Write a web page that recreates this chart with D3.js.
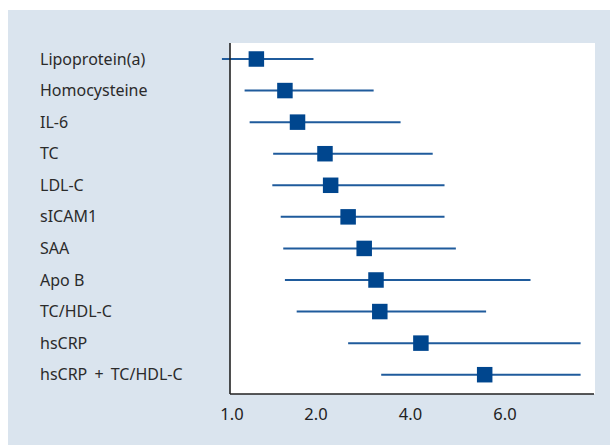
<!DOCTYPE html>
<html>
<head>
	<meta charset="utf-8">
	<title>forest plot</title>
	<script src="https://d3js.org/d3.v7.min.js"></script>
	<style>
		body { margin: 0; background: #fff; }
		svg { display: block; font-family: 'Noto Sans', sans-serif; }
	</style>
</head>
<body>
	<svg id="chart" width="610" height="445"></svg>
	<script type="text/javascript">

		// markers (top to bottom)
		var markers = ['Lipoprotein(a)', 'Homocysteine', 'IL-6', 'TC', 'LDL-C', 'sICAM1', 'SAA', 'Apo B', 'TC/HDL-C', 'hsCRP', 'hsCRP + TC/HDL-C'];
		// relative risk and 95% CI
		var rr    = [1.29, 1.63, 1.78, 2.19, 2.31, 2.68, 3.02, 3.27, 3.35, 4.22, 5.57];
		var lower = [0.88, 1.15, 1.21, 1.49, 1.48, 1.58, 1.61, 1.63, 1.77, 2.68, 3.38];
		var upper = [1.97, 3.22, 3.79, 4.47, 4.72, 4.72, 4.96, 6.54, 5.60, 7.60, 7.60];
		var ticks = [1, 2, 4, 6];

		var svg = d3.select('#chart');
		var plotLeft = 230, plotRight = 595, plotTop = 43, plotBottom = 394;

		// background + plot panel
		svg.append('rect').attr('x', 8).attr('y', 10).attr('width', 602).attr('height', 435).attr('fill', '#dae4ee');
		svg.append('rect')
			.attr('x', plotLeft).attr('y', plotTop)
			.attr('width', plotRight - plotLeft).attr('height', plotBottom - plotTop)
			.attr('fill', '#fff');

		// the original axis is not uniform: 1 -> 2 is wider than the rest
		var xScale = d3.scaleLinear()
			.domain([1, 2, 6])
			.range([232, 316, 505]);
		var yScale = d3.scalePoint()
			.domain(markers)
			.range([59, 374.7]);

		var rows = markers.map((m, i) => ({ name: m, rr: rr[i], lo: lower[i], hi: upper[i] }));

		var g = svg.selectAll('.row')
			.data(rows)
			.enter().append('g')
			.attr('class', 'row')
			.attr('transform', d => 'translate(0,' + yScale(d.name) + ')');

		g.append('line')
			.attr('x1', d => xScale(d.lo))
			.attr('x2', d => xScale(d.hi))
			.attr('stroke', '#1f5b9c')
			.attr('stroke-width', 2);

		g.append('rect')
			.attr('x', d => xScale(d.rr) - 7.75)
			.attr('y', -7.75)
			.attr('width', 15.5)
			.attr('height', 15.5)
			.attr('fill', '#00468e');

		g.append('text')
			.attr('x', 40)
			.attr('dy', '0.35em')
			.attr('font-size', 16)
			.attr('word-spacing', d => d.name.indexOf('+') >= 0 ? 3 : 0)
			.attr('fill', '#2b2b2b')
			.text(d => d.name);

		// axes
		svg.append('line')
			.attr('x1', plotLeft).attr('x2', plotLeft)
			.attr('y1', plotTop).attr('y2', plotBottom)
			.attr('stroke', '#222').attr('stroke-width', 1.6);
		svg.append('line')
			.attr('x1', plotLeft).attr('x2', plotRight - 1)
			.attr('y1', plotBottom).attr('y2', plotBottom)
			.attr('stroke', '#222').attr('stroke-width', 1.6);

		svg.selectAll('.tick-label')
			.data(ticks)
			.enter().append('text')
			.attr('class', 'tick-label')
			.attr('x', d => xScale(d))
			.attr('y', 414)
			.attr('dy', '0.35em')
			.attr('text-anchor', 'middle')
			.attr('font-size', 16.5)
			.attr('fill', '#222')
			.text(d => d3.format('.1f')(d));

	</script>
</body>
</html>
